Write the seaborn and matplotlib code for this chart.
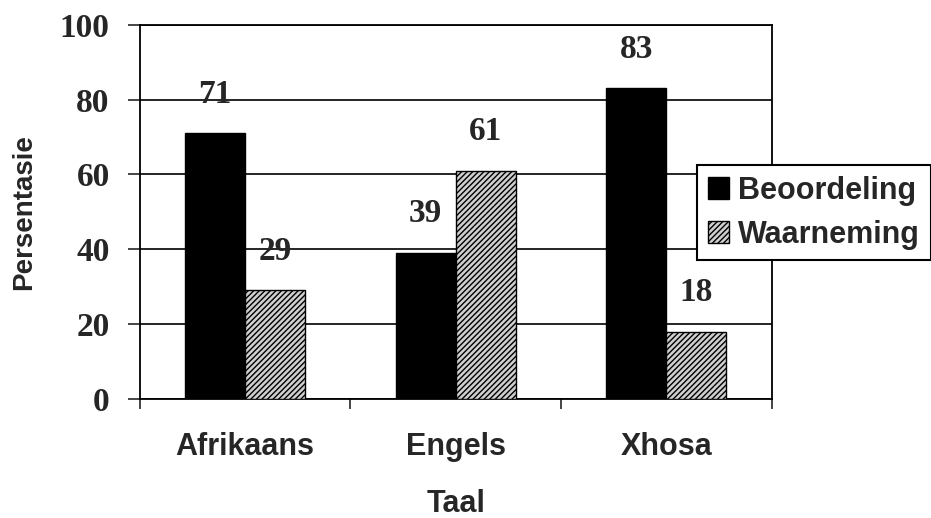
import pandas as pd
import matplotlib.pyplot as plt
import seaborn as sns
from matplotlib.ticker import FixedLocator

# data
languages = ["Afrikaans", "Engels", "Xhosa"]
series = ["Beoordeling", "Waarneming"]
beoordeling = [71, 39, 83]
waarneming = [29, 61, 18]
y_ticks = [0, 20, 40, 60, 80, 100]

df = pd.DataFrame({
    "Taal": languages * 2,
    "Persentasie": beoordeling + waarneming,
    "Tipe": [series[0]] * len(languages) + [series[1]] * len(languages),
})

sns.set_style("white")
plt.rcParams["hatch.linewidth"] = 1.0

SERIF = "Liberation Serif"
SANS = "Liberation Sans"

fig = plt.figure(figsize=(9.31, 5.18), dpi=100)
ax = fig.add_axes([0.150, 0.230, 0.679, 0.722])

sns.barplot(data=df, x="Taal", y="Persentasie", hue="Tipe", order=languages,
            hue_order=series, palette=["black", "#cfcfcf"], width=0.57,
            edgecolor="black", linewidth=1.0, saturation=1, legend=False,
            zorder=3, ax=ax)

for patch in ax.containers[1]:
    patch.set_hatch("//////")

for cont in ax.containers:
    ax.bar_label(cont, fmt="%d", padding=17, fontsize=24, fontweight="bold",
                 family=SERIF, zorder=4)

ax.set_ylim(0, 100)
ax.set_xlim(-0.5, len(languages) - 0.5)
ax.set_yticks(y_ticks)
ax.set_yticklabels([str(t) for t in y_ticks], fontsize=24, fontweight="bold",
                   family=SERIF)
ax.set_xticks(range(len(languages)))
ax.set_xticklabels(languages, fontsize=22, fontweight="bold", family=SANS)
ax.xaxis.set_minor_locator(FixedLocator([i - 0.5 for i in range(len(languages) + 1)]))

ax.tick_params(axis="y", direction="out", length=8.6, width=1.2, pad=13, left=True)
ax.tick_params(axis="x", which="major", length=0, pad=24)
ax.tick_params(axis="x", which="minor", direction="out", length=7.5, width=1.2, bottom=True)

ax.yaxis.grid(True, color="black", linewidth=1.2, zorder=0)
ax.set_axisbelow(True)
for side in ["left", "right", "top", "bottom"]:
    ax.spines[side].set_visible(True)
    ax.spines[side].set_color("black")
    ax.spines[side].set_linewidth(1.3)

ax.set_xlabel("Taal", fontsize=22, fontweight="bold", family=SANS, labelpad=19)
ax.set_ylabel("Persentasie", fontsize=20, fontweight="bold", family=SANS, labelpad=16)

leg = ax.legend(handles=[ax.containers[0], ax.containers[1]], labels=series,
                loc="upper left", bbox_to_anchor=(697 / 931, 1 - 165 / 518),
                bbox_transform=fig.transFigure, frameon=True, fancybox=False,
                prop={"family": SANS, "weight": "bold", "size": 22},
                handlelength=0.69, handleheight=0.69, handletextpad=0.3,
                labelspacing=0.46, borderpad=0.35, borderaxespad=0)
leg.get_frame().set_edgecolor("black")
leg.get_frame().set_linewidth(1.5)
leg.get_frame().set_alpha(1)
leg.set_zorder(5)

plt.savefig("out.png", dpi=100)
plt.close()
